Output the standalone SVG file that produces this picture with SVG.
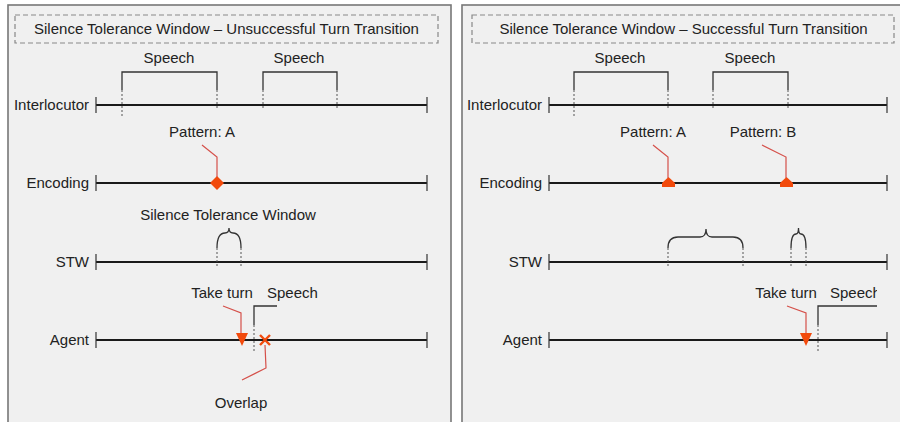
<svg xmlns="http://www.w3.org/2000/svg" width="900" height="422" viewBox="0 0 900 422">
<style>
text{font-family:"Liberation Sans",Arial,sans-serif;font-size:15px;fill:#222}
.lab{text-anchor:end}
.mid{text-anchor:middle}
.panel{fill:#f0f0f0;stroke:#777;stroke-width:1.6}
.title{fill:none;stroke:#888;stroke-width:1.2;stroke-dasharray:5 3}
.tl{stroke:#1a1a1a;stroke-width:2.2;fill:none}
.tick{stroke:#333;stroke-width:1.2}
.br{stroke:#333;stroke-width:1.3;fill:none}
.dash{stroke:#555;stroke-width:1;stroke-dasharray:2 2;fill:none}
.rl{stroke:#d5504a;stroke-width:1.2;fill:none}
.mk{fill:#f24a0c}
.x{stroke:#f24a0c;stroke-width:2.4;fill:none}
</style>
<defs>
<clipPath id="clipR"><rect x="462" y="0" width="415" height="422"/></clipPath>
</defs>
<rect x="0" y="0" width="900" height="422" fill="#fff"/>

<!-- LEFT PANEL -->
<g id="panel-left">
<rect class="panel" x="8" y="5" width="443" height="430"/>
<rect class="title" x="15" y="15" width="423" height="28"/>
<text class="mid" x="226.5" y="34">Silence Tolerance Window – Unsuccessful Turn Transition</text>
</g>

<g id="left-interlocutor">
<text class="lab" x="89" y="110">Interlocutor</text>
<line class="tl" x1="96" y1="105" x2="427" y2="105"/>
<line class="tick" x1="96" y1="97" x2="96" y2="113"/>
<line class="tick" x1="427" y1="97" x2="427" y2="113"/>
<path class="br" d="M122,90 V72 H217 V90"/>
<path class="br" d="M263,90 V72 H337 V90"/>
<path class="dash" d="M122,90 V118 M217,90 V108 M263,90 V108 M337,90 V108"/>
<text class="mid" x="169" y="63">Speech</text>
<text class="mid" x="299" y="63">Speech</text>
</g>

<g id="left-encoding">
<text class="lab" x="89" y="188">Encoding</text>
<line class="tl" x1="96" y1="183" x2="427" y2="183"/>
<line class="tick" x1="96" y1="175" x2="96" y2="191"/>
<line class="tick" x1="427" y1="175" x2="427" y2="191"/>
<text class="mid" x="202" y="137">Pattern: A</text>
<path class="mk" d="M217,176 L224,183 L217,190 L210,183 Z"/>
</g>

<g id="left-stw">
<text class="mid" x="228" y="220">Silence Tolerance Window</text>
<text class="lab" x="89" y="267">STW</text>
<line class="tl" x1="96" y1="262" x2="427" y2="262"/>
<line class="tick" x1="96" y1="254" x2="96" y2="270"/>
<line class="tick" x1="427" y1="254" x2="427" y2="270"/>
<path class="br" d="M217,248 Q217,233 225,233 Q229,233 229,228 Q229,233 233,233 Q241,233 241,248"/>
<path class="dash" d="M217,248 V268 M241,248 V268"/>
</g>

<g id="left-agent">
<text class="lab" x="89" y="345">Agent</text>
<line class="tl" x1="96" y1="340" x2="427" y2="340"/>
<line class="tick" x1="96" y1="332" x2="96" y2="348"/>
<line class="tick" x1="427" y1="332" x2="427" y2="348"/>
<text class="mid" x="222" y="298">Take turn</text>
<text x="267" y="298">Speech</text>
<path class="br" d="M254,325 V306 H277"/>
<path class="dash" d="M254,325 V352"/>
<path class="mk" d="M236,333 L248,333 L242,346 Z"/>
<path class="x" d="M260,335 L270,345 M270,335 L260,345"/>
<text class="mid" x="241" y="408">Overlap</text>
</g>

<!-- RIGHT PANEL -->
<g id="panel-right">
<rect class="panel" x="462" y="5" width="460" height="430"/>
<rect class="title" x="472" y="15" width="422" height="28"/>
<text class="mid" x="683.5" y="34">Silence Tolerance Window – Successful Turn Transition</text>
</g>

<g id="right-interlocutor">
<text class="lab" x="542" y="110">Interlocutor</text>
<line class="tl" x1="549" y1="105" x2="887" y2="105"/>
<line class="tick" x1="549" y1="97" x2="549" y2="113"/>
<line class="tick" x1="887" y1="97" x2="887" y2="113"/>
<path class="br" d="M574,90 V72 H668 V90"/>
<path class="br" d="M713,90 V72 H788 V90"/>
<path class="dash" d="M574,90 V118 M668,90 V108 M713,90 V108 M788,90 V108"/>
<text class="mid" x="620" y="63">Speech</text>
<text class="mid" x="750" y="63">Speech</text>
</g>

<g id="right-encoding">
<text class="lab" x="542" y="188">Encoding</text>
<line class="tl" x1="549" y1="183" x2="887" y2="183"/>
<line class="tick" x1="549" y1="175" x2="549" y2="191"/>
<line class="tick" x1="887" y1="175" x2="887" y2="191"/>
<text class="mid" x="653" y="137">Pattern: A</text>
<text class="mid" x="763" y="137">Pattern: B</text>
<path class="mk" d="M668.5,177 L675,183 L675,187 L662,187 L662,183 Z"/>
<path class="mk" d="M786.5,177 L793,183 L793,187 L780,187 L780,183 Z"/>
</g>

<g id="right-stw">
<text class="lab" x="542" y="267">STW</text>
<line class="tl" x1="549" y1="262" x2="887" y2="262"/>
<line class="tick" x1="549" y1="254" x2="549" y2="270"/>
<line class="tick" x1="887" y1="254" x2="887" y2="270"/>
<path class="br" d="M668,248 Q668,237 678,237 L700,237 Q706,237 706,229 Q706,237 712,237 L733,237 Q743,237 743,248"/>
<path class="br" d="M791,248 Q791,234 796,234 Q798.5,234 798.5,228 Q798.5,234 801,234 Q806,234 806,248"/>
<path class="dash" d="M668,248 V268 M743,248 V268 M791,248 V268 M806,248 V268"/>
</g>

<g id="right-agent">
<text class="lab" x="542" y="345">Agent</text>
<line class="tl" x1="549" y1="340" x2="887" y2="340"/>
<line class="tick" x1="549" y1="332" x2="549" y2="348"/>
<line class="tick" x1="887" y1="332" x2="887" y2="348"/>
<text class="mid" x="786" y="298">Take turn</text>
<text x="830" y="298" clip-path="url(#clipR)">Speech</text>
<path class="br" d="M818,325 V306 H877"/>
<path class="dash" d="M818,325 V352"/>
<path class="mk" d="M800,333 L812,333 L806,346 Z"/>
</g>

<g id="connectors">
<path class="rl" d="M202,145 L217,157 V177"/>
<path class="rl" d="M223,306 L241,313 V333"/>
<path class="rl" d="M265,345 L266,368 L242,380"/>
<path class="rl" d="M653,145 L668,157 V178"/>
<path class="rl" d="M762,145 L786,157 V178"/>
<path class="rl" d="M787,306 L806,313 V333"/>
</g>
</svg>
